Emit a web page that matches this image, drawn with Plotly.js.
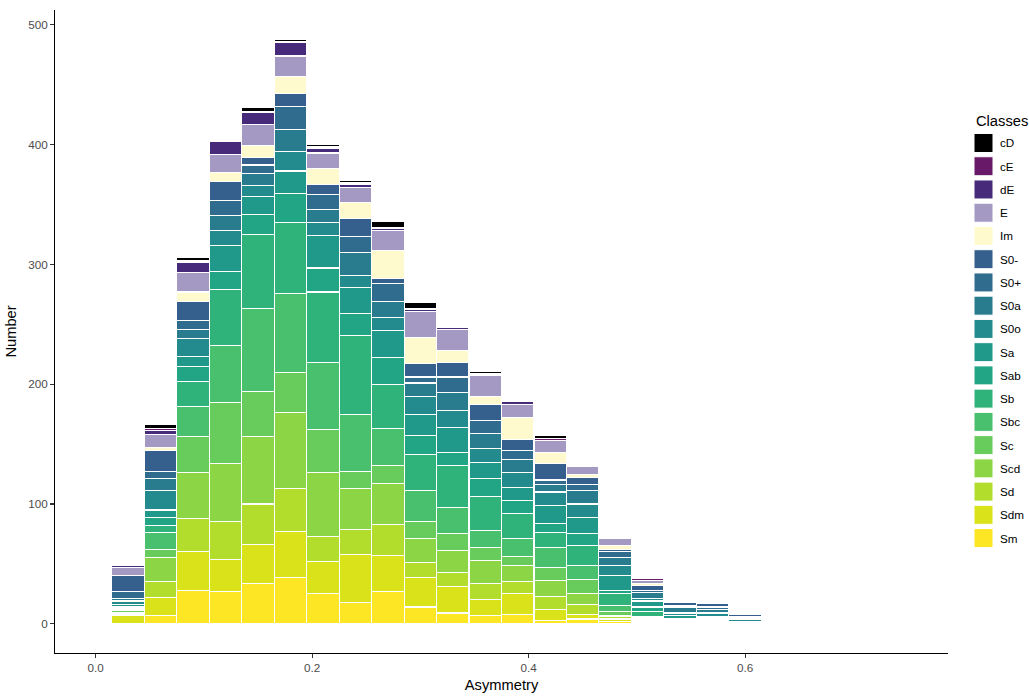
<!DOCTYPE html>
<html>
<head>
<meta charset="utf-8">
<script src="https://cdn.plot.ly/plotly-3.0.1.min.js"></script>
<style>html,body{margin:0;padding:0;background:#fff;}#chart{width:1029px;height:698px;}</style>
</head>
<body>
<div id="chart"></div>
<script>
// Bin centres (Asymmetry), bin width 0.03
const bins = [0.03,0.06,0.09,0.12,0.15,0.18,0.21,0.24,0.27,0.30,0.33,0.36,0.39,0.42,0.45,0.48,0.51,0.54,0.57,0.60,0.63,0.66];
const binWidth = 0.03;

// Counts per class (stack order: bottom -> top)
const Sm  = [0,7,28,27,34,39,25,18,27,14,9,7,8,3,4,2,1,0,0,0,0,0];
const Sdm = [7,15,32,27,32,38,27,40,30,25,22,13,17,9,4,2,1,0,0,0,0,0];
const Sd  = [1,13,28,31,34,36,21,21,26,12,12,14,10,11,8,2,1,0,1,0,0,0];
const Scd = [1,20,38,49,56,63,53,34,34,20,18,19,14,13,9,1,1,0,1,0,0,0];
const Sc  = [2,7,30,51,38,34,36,14,15,14,14,11,7,11,12,3,1,1,1,0,0,1];
const Sbc = [1,14,25,47,69,66,56,48,31,26,22,14,15,17,12,5,1,1,1,0,0,0];
const Sb  = [1,6,21,47,62,59,59,66,37,30,35,28,21,12,16,10,4,1,1,1,0,0];
const Sab = [1,7,13,15,17,24,20,18,22,16,11,15,11,8,10,3,4,1,0,0,0,0];
const Sa  = [2,6,8,22,15,19,27,22,23,18,21,14,11,15,14,12,5,3,1,1,0,0];
const S0o = [3,16,15,12,9,16,11,10,11,15,14,11,12,11,11,9,2,2,3,2,0,0];
const S0a = [2,10,8,13,10,19,11,19,13,11,15,13,11,6,11,6,5,5,3,1,0,0];
const S0plus  = [6,6,7,12,7,19,12,13,15,5,13,11,8,4,5,5,2,1,2,1,0,0];
const S0minus = [13,18,16,16,6,11,9,15,4,11,12,13,9,14,6,2,4,3,3,2,0,0];
const Im  = [0,2,8,8,10,14,13,14,24,22,10,7,18,9,3,3,2,1,0,0,0,0];
const E   = [7,11,16,15,18,17,13,12,16,22,18,17,11,10,6,6,2,1,0,0,0,0];
const dE  = [2,3,9,11,10,11,4,3,2,1,1,1,3,0,0,0,0,0,0,0,0,0];
const cE  = [0,2,1,0,1,1,1,1,1,1,0,1,0,2,0,0,2,0,0,0,0,0];
const cD  = [0,3,3,0,3,2,2,2,5,5,1,2,0,2,0,0,0,0,0,0,0,0];

const classNames = ['Sm','Sdm','Sd','Scd','Sc','Sbc','Sb','Sab','Sa','S0o','S0a','S0+','S0-','Im','E','dE','cE','cD'];
const classCounts = [Sm,Sdm,Sd,Scd,Sc,Sbc,Sb,Sab,Sa,S0o,S0a,S0plus,S0minus,Im,E,dE,cE,cD];
const classColors = ['#fde725','#dae319','#b2dd2d','#8cd645','#67cc5c','#48c06e','#30b37b','#22a585','#20988a','#238a8d','#287c8e','#2f6c8e','#355f8d','#fffacd','#a399c2','#472a7a','#681a68','#000000'];

const xTickVals = [0, 0.2, 0.4, 0.6];
const xTickText = ['0.0','0.2','0.4','0.6'];
const yTickVals = [0,100,200,300,400,500];

const FONT = 'Liberation Sans, Arial, Helvetica, sans-serif';

const traces = classNames.map((nm, i) => ({
  type: 'bar',
  name: nm,
  x: bins,
  y: classCounts[i],
  width: binWidth,
  marker: {color: classColors[i], line: {color: '#ffffff', width: 1.07}},
  showlegend: false,
  hovertemplate: nm + ': %{y}<extra></extra>'
}));

// Plot area geometry (pixels) used to place the manual legend
const W = 1029, H = 698;
const M = {l: 55, r: 81, t: 10, b: 45};
const pw = W - M.l - M.r, ph = H - M.t - M.b;
const px = x => (x - M.l) / pw;
const py = y => (H - M.b - y) / ph;

const shapes = [];
const annotations = [];
annotations.push({
  xref: 'paper', yref: 'paper', x: px(974), y: py(121), xanchor: 'left', yanchor: 'middle',
  text: 'Classes', showarrow: false, font: {family: FONT, size: 14.7, color: '#000'}
});
const legendOrder = classNames.slice().reverse();
legendOrder.forEach((nm, j) => {
  const idx = classNames.indexOf(nm);
  const cy = 143 + j * 23.24;
  shapes.push({
    type: 'rect', xref: 'paper', yref: 'paper',
    x0: px(974), x1: px(993), y0: py(cy - 9.5), y1: py(cy + 9.5),
    fillcolor: classColors[idx], line: {color: '#ffffff', width: 1}
  });
  annotations.push({
    xref: 'paper', yref: 'paper', x: px(998), y: py(cy), xanchor: 'left', yanchor: 'middle',
    text: nm, showarrow: false, font: {family: FONT, size: 11.7, color: '#000'}
  });
});

const layout = {
  width: W, height: H,
  margin: {l: M.l, r: M.r, t: M.t, b: M.b, autoexpand: false},
  paper_bgcolor: '#ffffff', plot_bgcolor: '#ffffff',
  barmode: 'stack', bargap: 0,
  font: {family: FONT, color: '#000'},
  xaxis: {
    range: [-0.0375, 0.7875], tickvals: xTickVals, ticktext: xTickText,
    showgrid: false, zeroline: false, showline: true, linecolor: '#000', linewidth: 1.07,
    ticks: 'outside', ticklen: 3.7, tickwidth: 1.07, tickcolor: '#333333',
    tickfont: {family: FONT, size: 11.7, color: '#4d4d4d'},
    title: {text: 'Asymmetry', font: {family: FONT, size: 14.7, color: '#000'}, standoff: 6},
    automargin: false, fixedrange: true
  },
  yaxis: {
    range: [-24.4, 512.4], tickvals: yTickVals,
    showgrid: false, zeroline: false, showline: true, linecolor: '#000', linewidth: 1.07,
    ticks: 'outside', ticklen: 3.7, tickwidth: 1.07, tickcolor: '#333333',
    tickfont: {family: FONT, size: 11.7, color: '#4d4d4d'},
    title: {text: 'Number', font: {family: FONT, size: 14.7, color: '#000'}, standoff: 8},
    automargin: false, fixedrange: true
  },
  shapes: shapes,
  annotations: annotations,
  showlegend: false
};

Plotly.newPlot('chart', traces, layout, {displayModeBar: false, staticPlot: true});
</script>
</body>
</html>
